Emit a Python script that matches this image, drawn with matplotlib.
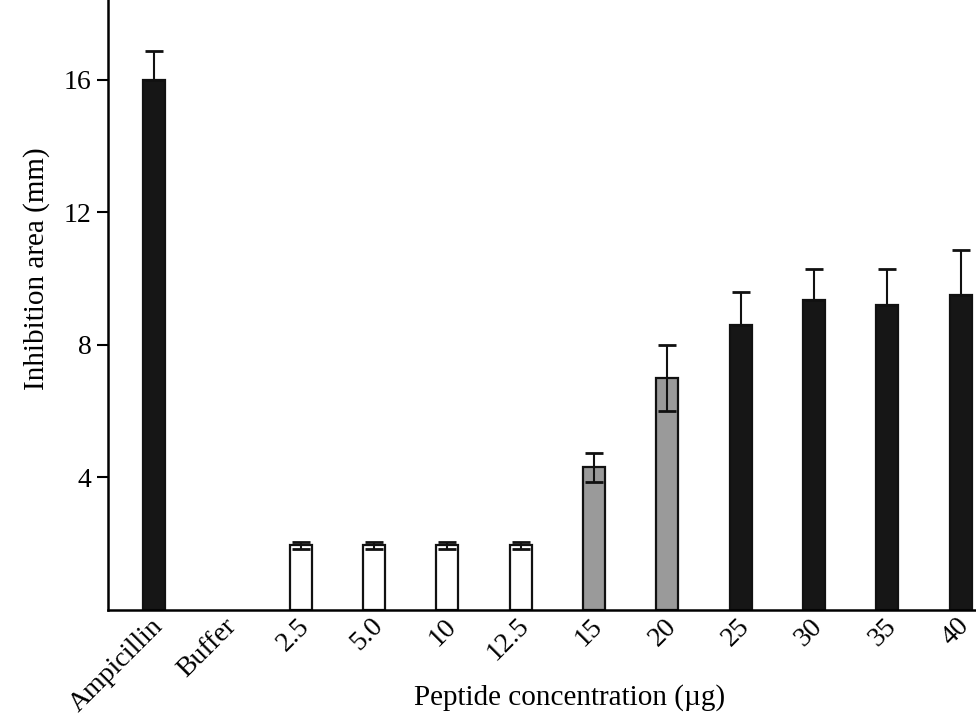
import matplotlib
matplotlib.use("Agg")
import matplotlib.pyplot as plt
import matplotlib.transforms as mtransforms
import numpy as np

# data
labels = ["Ampicillin", "Buffer", "2.5", "5.0", "10", "12.5", "15", "20", "25", "30", "35", "40"]
values = [16.0, 0.0, 1.95, 1.95, 1.95, 1.95, 4.3, 7.0, 8.6, 9.35, 9.2, 9.5]
errors = [0.85, 0.0, 0.1, 0.1, 0.1, 0.1, 0.45, 1.0, 1.0, 0.95, 1.1, 1.35]
groups = ["active", "none", "inactive", "inactive", "inactive", "inactive",
          "partial", "partial", "active", "active", "active", "active"]

FILL = {"active": "#161616", "partial": "#9a9a9a", "inactive": "white", "none": "white"}

plt.rcParams["font.family"] = ["Liberation Serif", "DejaVu Serif"]

fig = plt.figure(figsize=(9.76, 7.23), dpi=100)
ax = fig.add_axes([0.1107, 0.1563, 0.8893, 0.8437])

x = np.arange(len(labels))
for xi, v, e, g in zip(x, values, errors, groups):
    if v <= 0:
        continue
    ax.bar(xi, v, width=0.3, color=FILL[g], edgecolor="#111111", linewidth=1.6, zorder=2)
    # lower whisker is hidden inside the black bars
    lower = 0 if g == "active" else e
    ax.errorbar(xi, v, yerr=[[lower], [e]], fmt="none", ecolor="#111111", elinewidth=1.5,
                capsize=6.5, capthick=2, zorder=3)

ax.set_xlim(-0.63, 11.21)
ax.set_ylim(0, 18.4)
ax.set_yticks([4, 8, 12, 16])
ax.tick_params(axis="y", direction="out", length=8, width=1.5, labelsize=20, pad=4)
ax.set_xticks(x)
ax.set_xticklabels(labels, rotation=45, ha="right", va="top", rotation_mode="anchor", fontsize=20)
ax.tick_params(axis="x", length=0, pad=4)
shift = mtransforms.ScaledTranslation(-0.04, 0.02, fig.dpi_scale_trans)
for lab in ax.get_xticklabels():
    lab.set_transform(lab.get_transform() + shift)

for side in ["top", "right"]:
    ax.spines[side].set_visible(False)
ax.spines["left"].set_linewidth(1.8)
ax.spines["bottom"].set_linewidth(1.8)

ax.set_ylabel("Inhibition area (mm)", fontsize=21)
ax.yaxis.set_label_coords(-0.067, 0.56)
ax.set_xlabel("Peptide concentration (\u00b5g)", fontsize=21)
ax.xaxis.set_label_coords(0.532, -0.122)

fig.savefig("out.png", dpi=100, facecolor="white")
